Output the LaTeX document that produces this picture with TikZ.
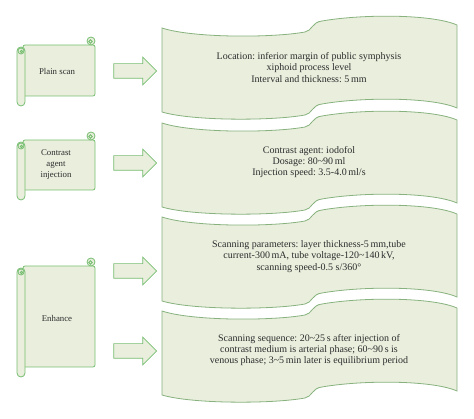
\documentclass[tikz,border=0pt]{standalone}
\usepackage{fontspec}
\setmainfont{Liberation Serif}
\usetikzlibrary{shapes.arrows}
\frenchspacing

\definecolor{paperfill}{RGB}{233,238,221}
\definecolor{bannerline}{RGB}{135,178,125}
\definecolor{scrollline}{RGB}{118,190,112}
\definecolor{inktext}{RGB}{45,45,45}

\tikzset{
  banner/.style={fill=paperfill, draw=bannerline, line width=0.8pt},
  scroll/.style={fill=paperfill, draw=scrollline, line width=0.8pt},
  blockarrow/.style={single arrow, fill=paperfill, draw=scrollline, line width=0.7pt,
    inner sep=0pt, text height=14pt, text depth=0pt, minimum height=43pt,
    single arrow head extend=6.5pt},
  info/.style={align=center, text=inktext, font=\fontsize{10}{11.2}\selectfont},
  label/.style={align=center, text=inktext, font=\fontsize{8.8}{11}\selectfont}
}

% scroll sheet: #1 = top of the curl, #2 = bottom of the sheet
\newcommand{\scrollsheet}[2]{
\filldraw[scroll, rounded corners=2] (23,#1+8) -- (95,#1+8) -- (95,#2) -- (23,#2) -- cycle;
\filldraw[scroll] (91,#1+4) circle (4);
\draw[scroll] (90.5,#1+4.5) circle (1.8);
\filldraw[scroll, rounded corners=4] (17,#1+10) rectangle (25,#2+10);
\draw[scroll] (21,#1+14) circle (3);
\draw[scroll] (21.5,#1+14.5) circle (1.3);
}

\begin{document}
\begin{tikzpicture}[x=1pt, y=-1pt]
\useasboundingbox (0,0) rectangle (474,419);

% wave banners
\foreach \t in {28,123,217,311} {
\begin{scope}[shift={(162,\t)}]
\filldraw[banner] (0,0) .. controls (30,10) and (110,10) .. (143,4)
  .. controls (150,3) and (150,-6) .. (160,-7)
  .. controls (200,-14) and (270,-14) .. (295,-3)
  -- (295,80)
  .. controls (270,69) and (200,69) .. (160,76)
  .. controls (150,77) and (150,86) .. (143,87)
  .. controls (110,93) and (30,93) .. (0,84) -- cycle;
\end{scope}
}

\node[info] (location) at (309,67.5) {Location: inferior margin of public symphysis\\
  xiphoid process level\\ Interval and thickness: 5\,mm};
\node[info] (agent) at (309,162) {Contrast agent: iodofol\\
  Dosage: 80\textasciitilde90\,ml\\ Injection speed: 3.5-4.0\,ml/s};
\node[info] (params) at (309,256.5) {Scanning parameters: layer thickness-5\,mm,tube\\
  current-300\,mA, tube voltage-120\textasciitilde140\,kV,\\ scanning speed-0.5 s/360°};
\node[info] (sequence) at (309,350) {Scanning sequence: 20\textasciitilde25\,s after injection of\\
  contrast medium is arterial phase; 60\textasciitilde90\,s is\\
  venous phase; 3\textasciitilde5\,min later is equilibrium period};

% scrolls
\scrollsheet{37}{96}
\scrollsheet{132}{190}
\scrollsheet{258}{367}

\node[label] (plain) at (57,71) {Plain scan};
\node[label] (contrast) at (56,165) {Contrast\\ agent\\ injection};
\node[label] (enhance) at (57,318) {Enhance};

% block arrows
\node[blockarrow] (arrow1) at (131.5,71) {};
\node[blockarrow] (arrow2) at (131.5,163) {};
\node[blockarrow] (arrow3) at (131.5,271) {};
\node[blockarrow] (arrow4) at (131.5,351) {};
\end{tikzpicture}
\end{document}
